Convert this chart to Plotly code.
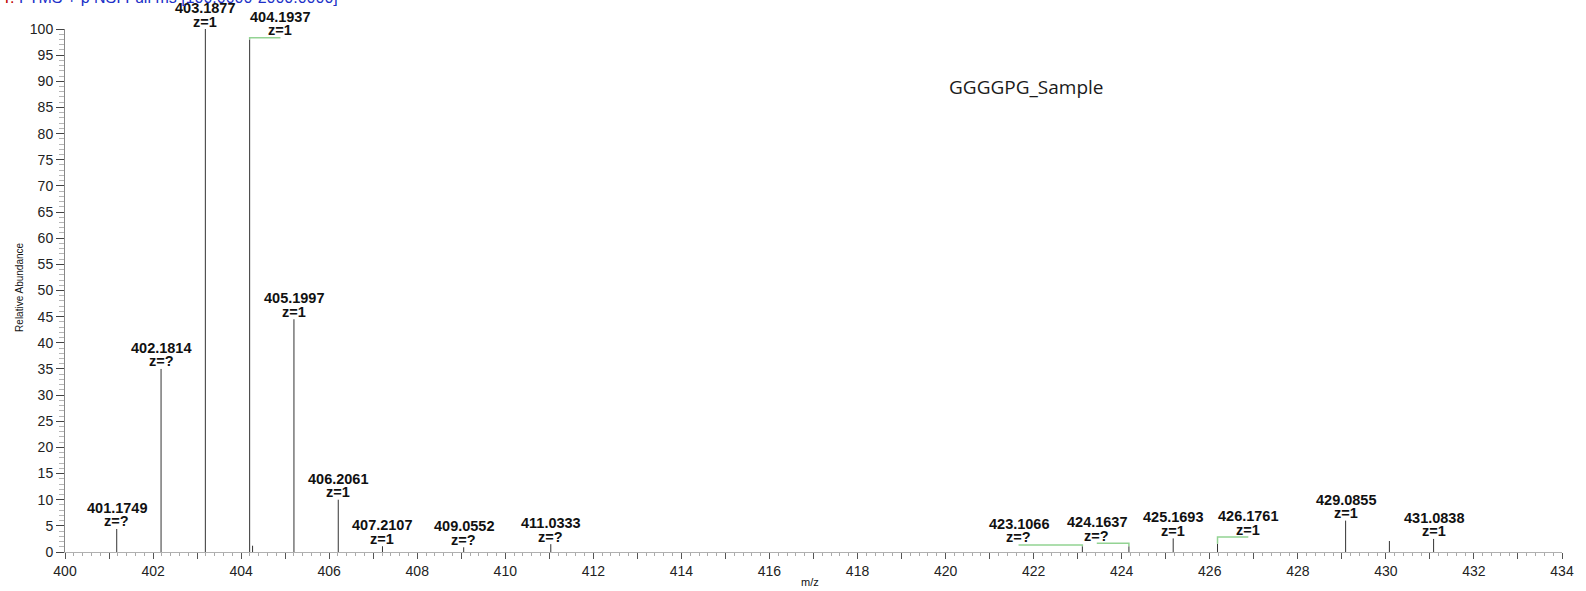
import plotly.graph_objects as go

# Centroid peaks of the spectrum (m/z, relative abundance %)
peak_mz = [401.1749, 402.1814, 403.1877, 404.1937, 404.2600, 405.1997, 406.2061,
           407.2107, 409.0552, 411.0333, 423.1066, 424.1637, 425.1693, 426.1761,
           429.0855, 430.0800, 431.0838]
peak_rel = [4.4, 35.0, 100.0, 98.0, 1.2, 44.5, 10.0,
            1.1, 0.9, 1.5, 1.1, 1.1, 2.6, 1.6,
            6.0, 2.1, 2.5]

# Annotated peaks and their charge states
label_mz = [401.1749, 402.1814, 403.1877, 404.1937, 405.1997, 406.2061, 407.2107,
            409.0552, 411.0333, 423.1066, 424.1637, 425.1693, 426.1761, 429.0855,
            431.0838]
label_z = ["?", "?", "1", "1", "1", "1", "1",
           "?", "?", "?", "?", "1", "1", "1",
           "1"]

# Label placement: shift along m/z and lift in % for labels moved off their peak
label_dx = [0, 0, 0, 0.70, 0, 0, 0, 0, 0, -1.45, -0.73, 0, 0.70, 0, 0]
label_dy = [0, 0, 0, 0.35, 0, 0, 0, 0, 0, 0.25, 0.55, 0, 1.25, 0, 0]

x_ticks = list(range(400, 435))
sample_name = "GGGGPG_Sample"
scan_filter = "FTMS + p NSI Full ms [100.0000-2000.0000]"

W, H = 1586, 591
ML, MR, MT, MB = 65, 20, 29, 37

rel_of = dict(zip(peak_mz, peak_rel))

fig = go.Figure()

# stick spectrum
xs, ys = [], []
for m, r in zip(peak_mz, peak_rel):
    xs += [m, m, None]
    ys += [0, r, None]
fig.add_trace(go.Scatter(x=xs, y=ys, mode="lines",
                         line=dict(color="#333333", width=1),
                         hoverinfo="skip", showlegend=False))

# green connectors from displaced labels to their peaks
cx, cy = [], []
for m, dx, dy in zip(label_mz, label_dx, label_dy):
    if dx == 0 and dy == 0:
        continue
    r = rel_of[m]
    cx += [m, m, m + dx, None]
    cy += [r, r + dy, r + dy, None]
fig.add_trace(go.Scatter(x=cx, y=cy, mode="lines",
                         line=dict(color="#93d393", width=1.5),
                         hoverinfo="skip", showlegend=False))

lab_font = dict(family="Liberation Sans, Arial, sans-serif", size=14.5, color="#111")
annotations = []
for m, z, dx, dy in zip(label_mz, label_z, label_dx, label_dy):
    r = rel_of[m] + dy
    annotations.append(dict(x=m + dx, y=r, xref="x", yref="y",
                            text=f"<b>{m:.4f}</b>", showarrow=False,
                            xanchor="center", yanchor="middle", yshift=21,
                            font=lab_font))
    annotations.append(dict(x=m + dx, y=r, xref="x", yref="y",
                            text=f"<b>z={z}</b>", showarrow=False,
                            xanchor="center", yanchor="middle", yshift=7.5,
                            font=lab_font))

# sample name
annotations.append(dict(x=0.6417, y=0.889, xref="paper", yref="paper",
                        text=sample_name, showarrow=False,
                        xanchor="center", yanchor="middle",
                        font=dict(family="Open Sans, sans-serif", size=19, color="#1a1a1a")))
# scan header (runs off the top edge)
annotations.append(dict(x=0, y=1, xref="paper", yref="paper", xshift=-ML,
                        text=f"<span style='color:#c00000'>T:</span> "
                             f"<span style='color:#2030c8'>{scan_filter}</span>",
                        showarrow=False, xanchor="left", yanchor="bottom", yshift=21,
                        font=dict(family="Liberation Sans, Arial, sans-serif", size=16)))
# axis titles
annotations.append(dict(x=0, y=0.505, xref="paper", yref="paper", xshift=-45,
                        text="Relative Abundance", textangle=-90, showarrow=False,
                        xanchor="center", yanchor="middle",
                        font=dict(family="Liberation Sans, Arial, sans-serif", size=10, color="#111")))
annotations.append(dict(x=0.4977, y=0, xref="paper", yref="paper", yshift=-30,
                        text="m/z", showarrow=False,
                        xanchor="center", yanchor="middle",
                        font=dict(family="Liberation Sans, Arial, sans-serif", size=11, color="#111")))

fig.update_layout(
    width=W, height=H,
    margin=dict(l=ML, r=MR, t=MT, b=MB, pad=0),
    paper_bgcolor="white", plot_bgcolor="white",
    annotations=annotations,
    xaxis=dict(range=[400, 434], showgrid=False, zeroline=False,
               showline=True, linecolor="#b0b0b0", linewidth=1,
               tickmode="array", tickvals=x_ticks,
               ticktext=[str(t) if t % 2 == 0 else "" for t in x_ticks],
               ticks="outside", ticklen=6, tickcolor="#555", tickwidth=1,
               minor=dict(dtick=0.2, tick0=400, ticks="outside", ticklen=3,
                          tickcolor="#aaa", tickwidth=1),
               tickfont=dict(family="Liberation Sans, Arial, sans-serif", size=14, color="#222")),
    yaxis=dict(range=[0, 100], showgrid=False, zeroline=False,
               showline=True, linecolor="#888", linewidth=1,
               tickmode="linear", tick0=0, dtick=5,
               ticks="outside", ticklen=8, tickcolor="#444", tickwidth=1,
               minor=dict(dtick=1, ticks="outside", ticklen=5,
                          tickcolor="#b5b5b5", tickwidth=1),
               tickfont=dict(family="Liberation Sans, Arial, sans-serif", size=14, color="#222")),
)

fig.write_html("out.html")
